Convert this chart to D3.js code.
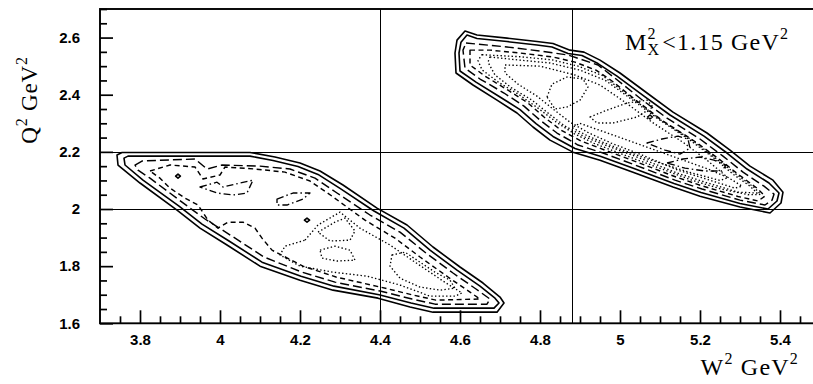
<!DOCTYPE html>
<html>
<head>
<meta charset="utf-8">
<script src="https://cdn.jsdelivr.net/npm/d3@7"></script>
<style>
  html, body { margin: 0; padding: 0; background: #fff; }
  svg { display: block; }
</style>
</head>
<body>
<svg id="chart" width="813" height="384"></svg>
<script>
// ---- axes ----
const wDomain = [3.7, 5.5];
const qDomain = [1.6, 2.7];
const wMajorTicks = [3.8, 4.0, 4.2, 4.4, 4.6, 4.8, 5.0, 5.2, 5.4];
const wTickLabels = ["3.8", "4", "4.2", "4.4", "4.6", "4.8", "5", "5.2", "5.4"];
const qMajorTicks = [1.6, 1.8, 2.0, 2.2, 2.4, 2.6];
const qTickLabels = ["1.6", "1.8", "2", "2.2", "2.4", "2.6"];
const wGrid = [4.4, 4.88];
const qGrid = [2.0, 2.2];

// ---- contour rings, [W², Q²] in GeV² ----
// lower-W² setting
const lowSolid1 = [[3.7425,2.189],[3.755,2.198],[4.075,2.198],[4.1375,2.182],[4.20,2.161],[4.25,2.133],[4.3075,2.084],[4.3925,2.003],[4.4675,1.944],[4.5325,1.867],[4.60,1.797],[4.6575,1.741],[4.70,1.692],[4.71,1.671],[4.6925,1.639],[4.5325,1.639],[4.475,1.657],[4.395,1.688],[4.2825,1.716],[4.20,1.751],[4.10,1.800],[4.0175,1.874],[3.95,1.933],[3.8925,1.996],[3.80,2.091],[3.745,2.154]];
const lowSolid2 = [[3.76,2.178],[3.77,2.185],[4.075,2.185],[4.1325,2.170],[4.195,2.149],[4.245,2.121],[4.30,2.072],[4.385,1.993],[4.46,1.933],[4.525,1.856],[4.5925,1.786],[4.65,1.730],[4.6875,1.688],[4.6975,1.671],[4.685,1.653],[4.535,1.653],[4.4775,1.671],[4.3975,1.700],[4.285,1.730],[4.2025,1.765],[4.105,1.814],[4.0225,1.888],[3.955,1.947],[3.8975,2.010],[3.8075,2.101],[3.7625,2.154]];
const lowLongDash = [[3.7875,2.154],[3.805,2.168],[3.9375,2.175],[3.9675,2.140],[4.005,2.154],[4.10,2.150],[4.175,2.140],[4.2375,2.108],[4.2925,2.056],[4.375,1.979],[4.45,1.919],[4.515,1.846],[4.5825,1.776],[4.64,1.720],[4.675,1.685],[4.6675,1.667],[4.5375,1.667],[4.48,1.685],[4.40,1.713],[4.2875,1.744],[4.205,1.779],[4.11,1.832],[4.03,1.905],[3.9625,1.965],[3.905,2.024],[3.825,2.108],[3.795,2.136]];
const lowDash = [[3.825,2.133],[3.875,2.154],[3.9375,2.147],[3.9575,2.105],[4.00,2.119],[4.0125,2.147],[4.0875,2.140],[4.1625,2.129],[4.225,2.098],[4.28,2.045],[4.3625,1.961],[4.4375,1.898],[4.50,1.832],[4.57,1.762],[4.625,1.709],[4.65,1.685],[4.54,1.681],[4.4825,1.699],[4.40,1.727],[4.29,1.762],[4.2075,1.800],[4.13,1.856],[4.105,1.898],[4.0875,1.933],[4.0575,1.954],[4.02,1.954],[3.995,1.933],[3.97,1.961],[3.945,2.014],[3.9125,2.038],[3.875,2.073],[3.85,2.108]];
const lowDashDotA = [[3.95,2.077],[3.9925,2.094],[4.0075,2.077],[4.05,2.091],[4.0825,2.101],[4.0675,2.056],[4.0325,2.049],[3.9925,2.056]];
const lowDashDotB = [[4.1425,2.035],[4.1825,2.056],[4.225,2.056],[4.2075,2.035],[4.1675,2.014],[4.1425,2.014]];
const lowSpotA = [[3.889,2.115],[3.895,2.122],[3.901,2.115],[3.895,2.108]];
const lowSpotB = [[4.211,1.961],[4.2175,1.968],[4.224,1.961],[4.2175,1.954]];
const lowDot1 = [[4.2125,1.891],[4.245,1.944],[4.30,1.989],[4.35,1.933],[4.425,1.874],[4.4875,1.814],[4.5575,1.748],[4.605,1.706],[4.5875,1.695],[4.525,1.695],[4.45,1.734],[4.3675,1.765],[4.2825,1.779],[4.20,1.800],[4.15,1.839],[4.1625,1.870]];
const lowDot2 = [[4.245,1.919],[4.2875,1.954],[4.3125,1.968],[4.3375,1.923],[4.325,1.891],[4.275,1.888]];
const lowDot3 = [[4.25,1.856],[4.2875,1.870],[4.325,1.856],[4.3375,1.821],[4.2925,1.818],[4.255,1.828]];
const lowDot4 = [[4.43,1.839],[4.4625,1.849],[4.50,1.814],[4.5375,1.779],[4.575,1.751],[4.5875,1.723],[4.55,1.716],[4.50,1.727],[4.45,1.758],[4.425,1.800]];

// higher-W² setting
const highSolid1 = [[4.6125,2.623],[4.6425,2.609],[4.7175,2.598],[4.7925,2.586],[4.8325,2.579],[4.875,2.556],[4.91,2.549],[4.95,2.521],[5.0,2.476],[5.0675,2.406],[5.1325,2.339],[5.2175,2.266],[5.275,2.206],[5.325,2.150],[5.3825,2.101],[5.4075,2.059],[5.4025,2.021],[5.375,1.986],[5.30,2.007],[5.20,2.045],[5.1325,2.077],[5.0325,2.129],[4.95,2.171],[4.8825,2.199],[4.825,2.241],[4.7825,2.287],[4.7425,2.336],[4.6925,2.381],[4.6325,2.434],[4.59,2.476],[4.5875,2.546],[4.5925,2.591]];
const highSolid2 = [[4.6175,2.609],[4.6425,2.597],[4.7175,2.586],[4.7925,2.574],[4.83,2.567],[4.87,2.544],[4.905,2.537],[4.945,2.509],[4.9925,2.465],[5.06,2.395],[5.125,2.329],[5.21,2.255],[5.2675,2.196],[5.3175,2.140],[5.3725,2.091],[5.3975,2.056],[5.3925,2.028],[5.37,2.000],[5.30,2.019],[5.2025,2.058],[5.135,2.089],[5.035,2.142],[4.9525,2.184],[4.8875,2.212],[4.8325,2.254],[4.79,2.299],[4.75,2.348],[4.70,2.392],[4.64,2.444],[4.60,2.483],[4.5975,2.546],[4.6025,2.584]];
const highLongDash = [[4.615,2.581],[4.6375,2.578],[4.7175,2.567],[4.80,2.553],[4.87,2.539],[4.945,2.504],[4.9875,2.458],[5.0525,2.385],[5.1175,2.318],[5.20,2.245],[5.2575,2.185],[5.3075,2.129],[5.36,2.080],[5.385,2.052],[5.38,2.031],[5.3625,2.014],[5.30,2.031],[5.205,2.070],[5.1375,2.101],[5.0375,2.154],[4.9575,2.196],[4.895,2.224],[4.8425,2.266],[4.80,2.311],[4.76,2.360],[4.71,2.406],[4.65,2.455],[4.6125,2.493],[4.6075,2.556]];
const highDash = [[4.625,2.556],[4.675,2.556],[4.75,2.546],[4.8325,2.532],[4.8875,2.514],[4.94,2.486],[4.98,2.448],[5.0425,2.378],[5.1075,2.308],[5.19,2.234],[5.2475,2.175],[5.295,2.122],[5.3425,2.073],[5.3625,2.045],[5.345,2.028],[5.295,2.044],[5.2075,2.080],[5.14,2.112],[5.0425,2.164],[4.9625,2.206],[4.9025,2.238],[4.8525,2.276],[4.81,2.322],[4.77,2.371],[4.72,2.416],[4.6625,2.465],[4.625,2.504]];
const highDot0 = [[4.655,2.540],[4.75,2.533],[4.83,2.522],[4.895,2.500],[4.955,2.468],[5.035,2.383],[5.10,2.313],[5.183,2.238],[5.24,2.177],[5.29,2.122],[5.334,2.077],[5.352,2.051],[5.32,2.050],[5.255,2.069],[5.175,2.103],[5.095,2.145],[5.005,2.192],[4.935,2.230],[4.885,2.264],[4.84,2.305],[4.795,2.353],[4.748,2.400],[4.698,2.442],[4.655,2.487],[4.645,2.52]];
const highDot1 = [[4.675,2.532],[4.75,2.521],[4.825,2.511],[4.90,2.486],[4.9625,2.451],[5.025,2.388],[5.0925,2.318],[5.175,2.241],[5.235,2.178],[5.2825,2.122],[5.325,2.080],[5.3425,2.056],[5.295,2.059],[5.2125,2.094],[5.1425,2.126],[5.05,2.178],[4.97,2.220],[4.9125,2.252],[4.8625,2.290],[4.82,2.336],[4.78,2.381],[4.73,2.423],[4.6875,2.469],[4.67,2.514]];
const highDot2 = [[4.7125,2.504],[4.80,2.500],[4.8875,2.469],[4.95,2.434],[5.0125,2.374],[5.08,2.304],[5.16,2.231],[5.22,2.168],[5.265,2.115],[5.305,2.080],[5.2875,2.073],[5.215,2.105],[5.145,2.136],[5.055,2.189],[4.9775,2.231],[4.9225,2.266],[4.875,2.304],[4.8325,2.350],[4.7925,2.395],[4.745,2.437],[4.7125,2.476]];
const highDot3 = [[4.8175,2.392],[4.83,2.437],[4.8675,2.462],[4.9075,2.455],[4.92,2.427],[4.90,2.381],[4.8675,2.357],[4.8375,2.350]];
const highDot4 = [[4.925,2.322],[4.9675,2.346],[5.0175,2.371],[5.0675,2.381],[5.0825,2.357],[5.0425,2.322],[4.9825,2.301],[4.9425,2.301]];
const highDot5 = [[4.90,2.300],[4.96,2.270],[5.05,2.225],[5.14,2.180],[5.22,2.140],[5.27,2.110],[5.25,2.100],[5.17,2.130],[5.08,2.170],[4.99,2.215],[4.92,2.255],[4.88,2.285]];
const highDashDotA = [[5.0675,2.231],[5.105,2.245],[5.145,2.255],[5.17,2.245],[5.175,2.213],[5.15,2.192],[5.1125,2.206]];
const highDashDotB = [[5.1175,2.161],[5.1575,2.175],[5.20,2.182],[5.235,2.171],[5.265,2.154],[5.255,2.133],[5.2125,2.133],[5.1625,2.143]];
const highSpot = [[5.069,2.322],[5.075,2.329],[5.081,2.322],[5.075,2.315]];

// ---- line styles per contour level ----
const lineStyles = {
  solid:    { dash: null,            width: 1.6 },
  longdash: { dash: "9,4",           width: 1.45 },
  dash:     { dash: "5,3.5",         width: 1.45 },
  dashdot:  { dash: "7,3,1.5,3",     width: 1.35 },
  dot:      { dash: "1.4,2.3",       width: 1.35 }
};

const contourRings = [
  { ring: lowSolid1, style: "solid" },
  { ring: lowSolid2, style: "solid" },
  { ring: lowLongDash, style: "longdash" },
  { ring: lowDash, style: "dash" },
  { ring: lowDashDotA, style: "dashdot" },
  { ring: lowDashDotB, style: "dashdot" },
  { ring: lowSpotA, style: "solid" },
  { ring: lowSpotB, style: "solid" },
  { ring: lowDot1, style: "dot" },
  { ring: lowDot2, style: "dot" },
  { ring: lowDot3, style: "dot" },
  { ring: lowDot4, style: "dot" },
  { ring: highSolid1, style: "solid" },
  { ring: highSolid2, style: "solid" },
  { ring: highLongDash, style: "longdash" },
  { ring: highDash, style: "dash" },
  { ring: highDot0, style: "dot" },
  { ring: highDot1, style: "dot" },
  { ring: highDot2, style: "dot" },
  { ring: highDot3, style: "dot" },
  { ring: highDot4, style: "dot" },
  { ring: highDot5, style: "dot" },
  { ring: highDashDotA, style: "dashdot" },
  { ring: highDashDotB, style: "dashdot" },
  { ring: highSpot, style: "solid" }
];

// ---- drawing ----
const svg = d3.select("#chart");
const plot = { left: 100, right: 820, top: 9, bottom: 323.3 };

svg.append("rect").attr("width", 813).attr("height", 384).attr("fill", "#fff");

const x = d3.scaleLinear().domain(wDomain).range([plot.left, plot.right]);
const y = d3.scaleLinear().domain(qDomain).range([plot.bottom, plot.top]);

// grid lines
const grid = svg.append("g").attr("shape-rendering", "crispEdges");
grid.selectAll("line.v").data(wGrid).join("line")
  .attr("class", "v")
  .attr("x1", d => Math.round(x(d)) + 0.5).attr("x2", d => Math.round(x(d)) + 0.5)
  .attr("y1", plot.top).attr("y2", plot.bottom)
  .attr("stroke", "#000").attr("stroke-width", 1);
grid.selectAll("line.h").data(qGrid).join("line")
  .attr("class", "h")
  .attr("y1", d => Math.round(y(d)) + 0.5).attr("y2", d => Math.round(y(d)) + 0.5)
  .attr("x1", plot.left).attr("x2", plot.right)
  .attr("stroke", "#000").attr("stroke-width", 1);

// contours
const ringPath = d3.line()
  .x(d => x(d[0]))
  .y(d => y(d[1]))
  .curve(d3.curveLinearClosed);

svg.append("g").selectAll("path").data(contourRings).join("path")
  .attr("d", d => ringPath(d.ring))
  .attr("fill", "none")
  .attr("stroke", "#000")
  .attr("stroke-linejoin", "round")
  .attr("stroke-width", d => lineStyles[d.style].width)
  .attr("stroke-dasharray", d => lineStyles[d.style].dash);

// axes: major and minor ticks drawn inward
const tickFont = "'Liberation Sans', Arial, Helvetica, sans-serif";
const wMinorTicks = d3.range(3.75, 5.5, 0.05).filter(v => !wMajorTicks.some(m => Math.abs(m - v) < 1e-6));
const qMinorTicks = d3.range(1.65, 2.7, 0.05).filter(v => !qMajorTicks.some(m => Math.abs(m - v) < 1e-6));

function styleAxis(g) {
  g.select(".domain").remove();
  g.selectAll(".tick line").attr("stroke", "#000").attr("stroke-width", 1.7);
  g.selectAll(".tick text")
    .attr("fill", "#000")
    .style("font-family", tickFont)
    .style("font-weight", "bold")
    .style("font-size", "15px");
}

svg.append("g")
  .attr("transform", `translate(0,${plot.bottom})`)
  .call(d3.axisBottom(x).tickValues(wMinorTicks).tickFormat("").tickSizeInner(-7).tickSizeOuter(0))
  .call(styleAxis);
svg.append("g")
  .attr("transform", `translate(0,${plot.bottom})`)
  .call(d3.axisBottom(x).tickValues(wMajorTicks).tickFormat((d, i) => wTickLabels[i])
        .tickSizeInner(-13).tickSizeOuter(0).tickPadding(11))
  .call(styleAxis);

svg.append("g")
  .attr("transform", `translate(${plot.left},0)`)
  .call(d3.axisLeft(y).tickValues(qMinorTicks).tickFormat("").tickSizeInner(-7).tickSizeOuter(0))
  .call(styleAxis);
svg.append("g")
  .attr("transform", `translate(${plot.left},0)`)
  .call(d3.axisLeft(y).tickValues(qMajorTicks).tickFormat((d, i) => qTickLabels[i])
        .tickSizeInner(-13).tickSizeOuter(0).tickPadding(20))
  .call(styleAxis);

// frame
svg.append("rect")
  .attr("x", plot.left).attr("y", plot.top)
  .attr("width", plot.right - plot.left).attr("height", plot.bottom - plot.top)
  .attr("fill", "none").attr("stroke", "#000").attr("stroke-width", 1.9);

// titles
const serif = "'Liberation Serif', 'Times New Roman', Times, serif";

const wTitle = svg.append("text")
  .attr("x", 799).attr("y", 375)
  .attr("text-anchor", "end")
  .style("font-family", serif).style("font-size", "24px").style("letter-spacing", "1.2px").attr("fill", "#000");
wTitle.append("tspan").text("W");
wTitle.append("tspan").attr("dy", -11).style("font-size", "16px").text("2");
wTitle.append("tspan").attr("dy", 11).text(" GeV");
wTitle.append("tspan").attr("dy", -11).style("font-size", "16px").text("2");

const qTitle = svg.append("text")
  .attr("transform", "translate(37,100) rotate(-90)")
  .attr("text-anchor", "middle")
  .style("font-family", serif).style("font-size", "23px").style("letter-spacing", "0.8px").attr("fill", "#000");
qTitle.append("tspan").text("Q");
qTitle.append("tspan").attr("dy", -10).style("font-size", "16px").text("2");
qTitle.append("tspan").attr("dy", 10).text(" GeV");
qTitle.append("tspan").attr("dy", -10).style("font-size", "16px").text("2");

// cut label: M_X^2 < 1.15 GeV^2
const cut = svg.append("g").style("font-family", serif).style("letter-spacing", "1.2px").attr("fill", "#000");
const base = 50;
let cx = 625;
const mText = cut.append("text").attr("x", cx).attr("y", base).style("font-size", "24px").text("M");
cx += mText.node().getComputedTextLength();
const supText = cut.append("text").attr("x", cx).attr("y", base - 11).style("font-size", "16px").text("2");
const subText = cut.append("text").attr("x", cx).attr("y", base + 5).style("font-size", "16px").text("X");
cx += Math.max(supText.node().getComputedTextLength(), subText.node().getComputedTextLength()) + 2;
const restText = cut.append("text").attr("x", cx).attr("y", base).style("font-size", "24px").text("<1.15 GeV");
cx += restText.node().getComputedTextLength();
cut.append("text").attr("x", cx).attr("y", base - 11).style("font-size", "16px").text("2");
</script>
</body>
</html>
